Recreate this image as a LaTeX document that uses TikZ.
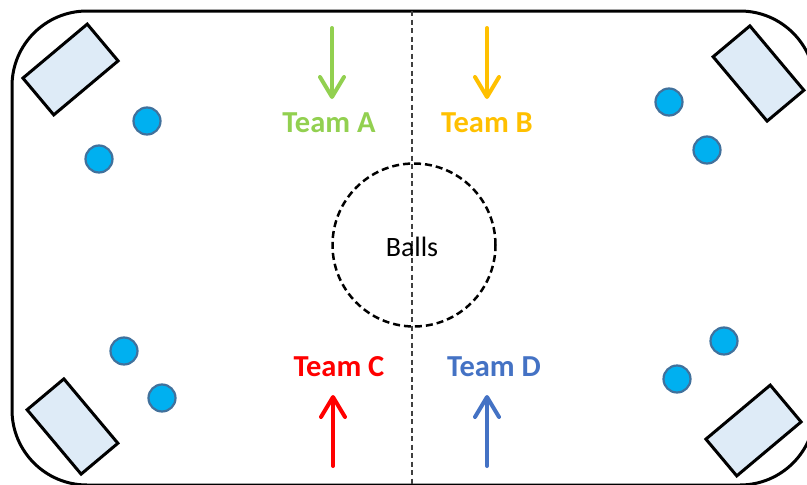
\documentclass[tikz,border=0pt]{standalone}
\usepackage{fontspec}
\setmainfont{Carlito}
\usetikzlibrary{arrows.meta}
\definecolor{teamA}{HTML}{92D050}
\definecolor{teamB}{HTML}{FFC000}
\definecolor{teamC}{HTML}{FF0000}
\definecolor{teamD}{HTML}{4472C4}
\definecolor{boxfill}{HTML}{DEEBF7}
\definecolor{ballfill}{HTML}{00B0F0}
\definecolor{balledge}{HTML}{41719C}
\definecolor{midline}{HTML}{404040}
\tikzset{
  robot/.style={draw=black, fill=boxfill, line width=3pt, inner sep=0pt,
    minimum width=84pt, minimum height=48pt},
  ballnode/.style={circle, draw=balledge, fill=ballfill, line width=2.2pt,
    inner sep=0pt, minimum size=27pt},
  teamlabel/.style={font=\fontsize{30.5}{36}\selectfont\bfseries, inner sep=0pt},
  teamarrow/.style={line width=4pt, line cap=round,
    -{Straight Barb[length=20pt,width=24pt,round]}},
}
\begin{document}
\begin{tikzpicture}[x=1pt,y=-1pt]
\useasboundingbox (0,0) rectangle (807,485);
\clip (0,0) rectangle (807,485);
% field border
\draw[line width=3pt, rounded corners=75pt] (12,11) rectangle (815,485);
% centre line
\coordinate (midtop) at (412,11);
\coordinate (midbot) at (412,485);
\draw[midline, line width=1.5pt, dash pattern=on 5pt off 3.5pt] (midtop) -- (midbot);
% balls circle
\node[circle, draw=black, line width=2.5pt, dash pattern=on 7pt off 4pt,
  minimum size=163pt, inner sep=0pt] (pool) at (414,245) {};
\node[font=\fontsize{28}{34}\selectfont, inner sep=0pt] (ballstext) at (412,247) {Balls};
% robots
\node[robot, rotate=40] (r1) at (70.5,69.5) {};
\node[robot, rotate=-50] (r2) at (758.5,73.5) {};
\node[robot, rotate=-50] (r3) at (72.5,426.5) {};
\node[robot, rotate=40] (r4) at (753.5,430.5) {};
% balls
\node[ballnode] (b1) at (147,121) {};
\node[ballnode] (b2) at (99,159) {};
\node[ballnode] (b3) at (669,102) {};
\node[ballnode] (b4) at (707,150) {};
\node[ballnode] (b5) at (124,351) {};
\node[ballnode] (b6) at (162,398) {};
\node[ballnode] (b7) at (724,341) {};
\node[ballnode] (b8) at (677,379) {};
% team labels
\node[teamlabel, text=teamA] (tA) at (329,123) {Team A};
\node[teamlabel, text=teamB] (tB) at (487,123) {Team B};
\node[teamlabel, text=teamC] (tC) at (339,367) {Team C};
\node[teamlabel, text=teamD] (tD) at (494,367) {Team D};
% arrows
\coordinate (aS) at (332,28);
\coordinate (aE) at (332,99);
\coordinate (bS) at (487,28);
\coordinate (bE) at (487,99);
\coordinate (cS) at (333,466);
\coordinate (cE) at (333,395);
\coordinate (dS) at (487,466);
\coordinate (dE) at (487,395);
\draw[teamarrow, teamA] (aS) -- (aE);
\draw[teamarrow, teamB] (bS) -- (bE);
\draw[teamarrow, teamC] (cS) -- (cE);
\draw[teamarrow, teamD] (dS) -- (dE);
\end{tikzpicture}
\end{document}
